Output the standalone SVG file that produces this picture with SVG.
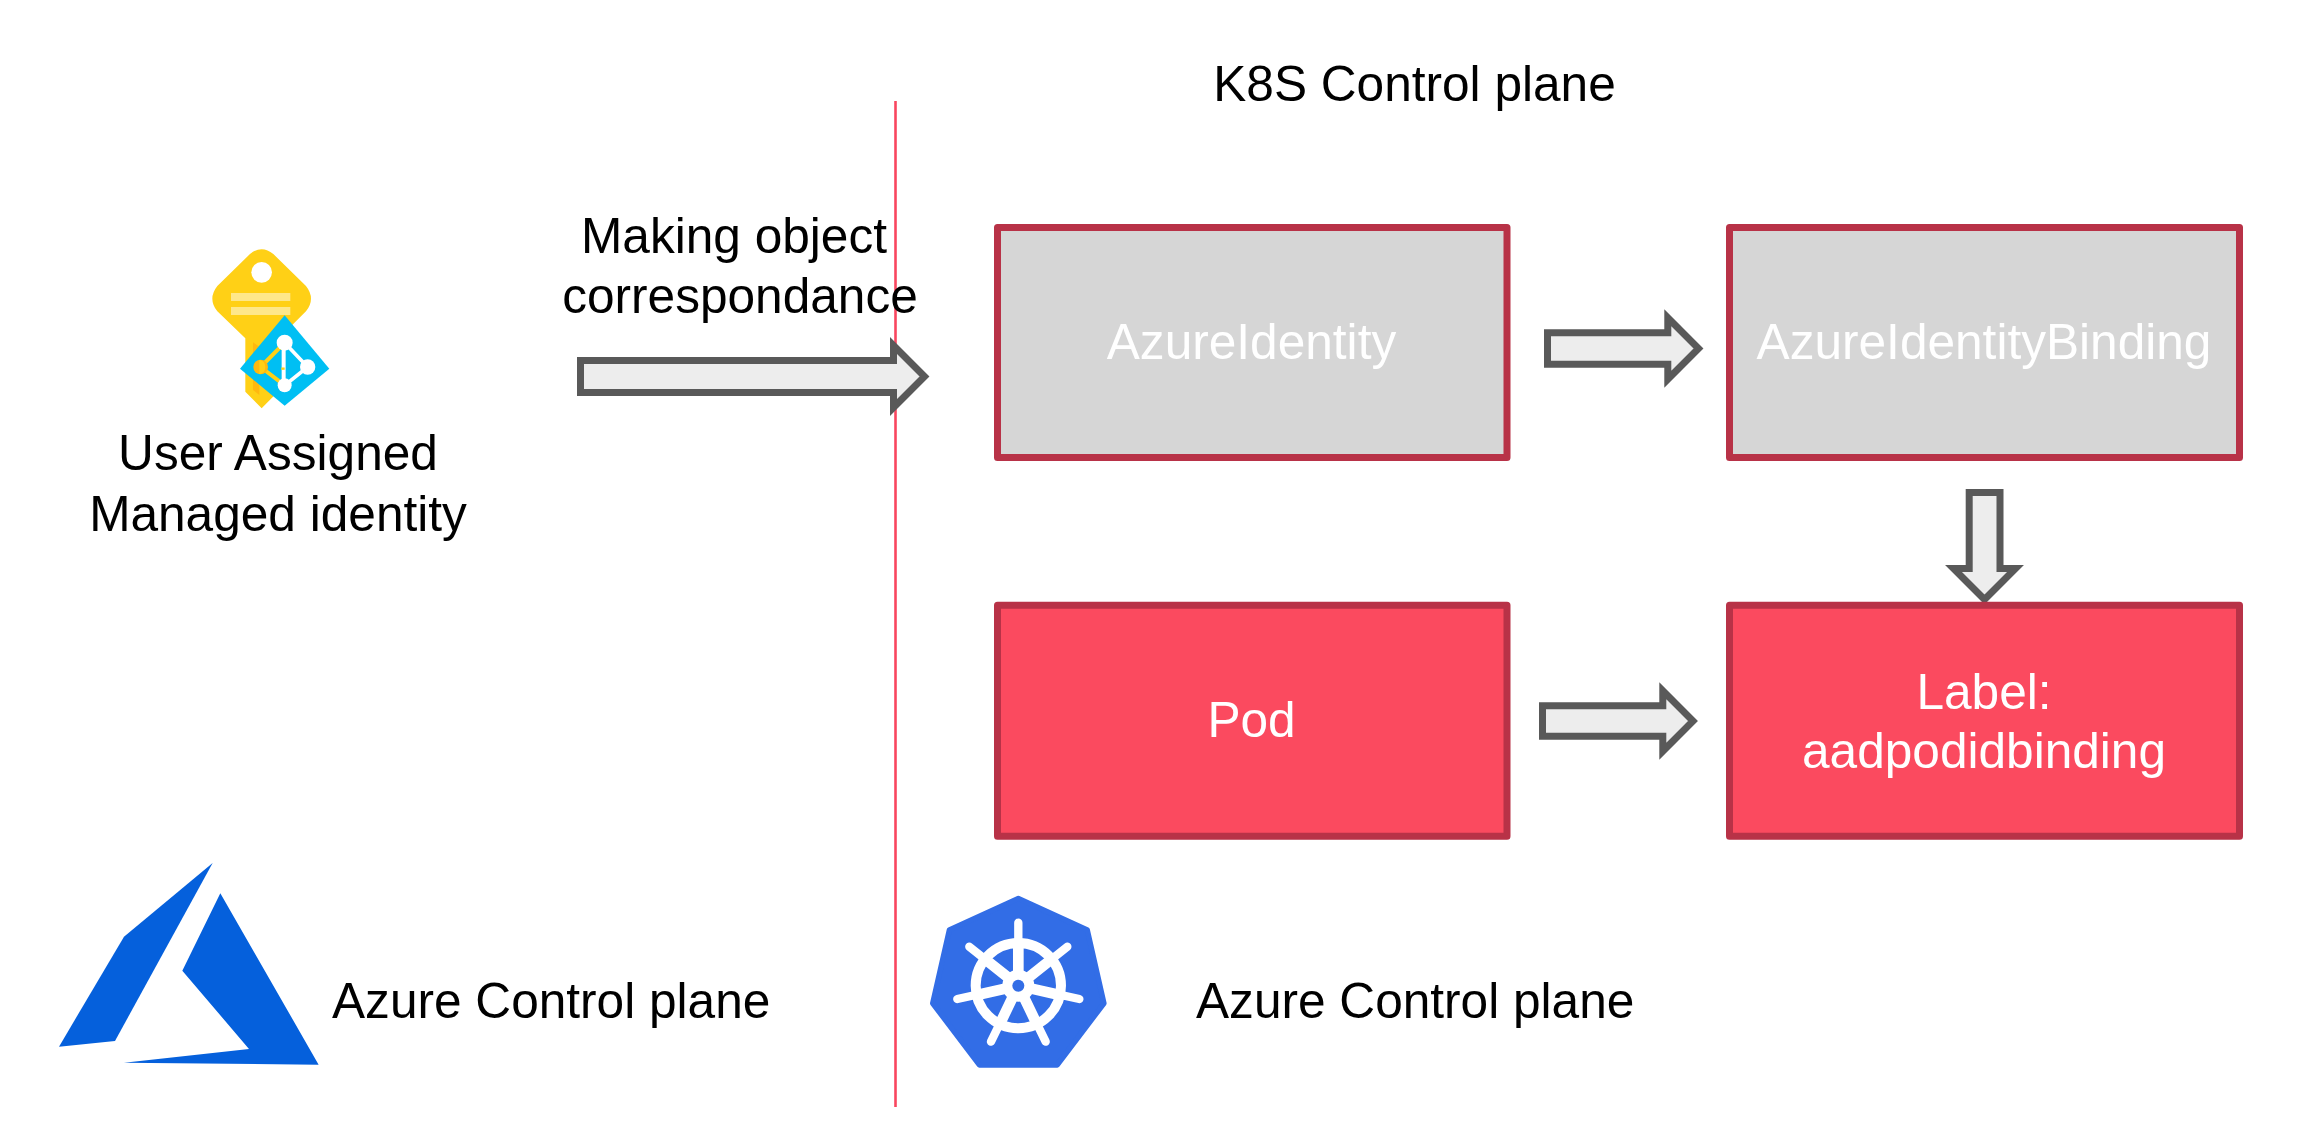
<svg xmlns="http://www.w3.org/2000/svg" width="2306" height="1136" viewBox="0 0 2306 1136">
<style>
text{font-family:"Liberation Sans",Arial,sans-serif;font-size:49.6px;fill:#000}
.m{text-anchor:middle}
.w{fill:#fff}
.box{stroke:#B83247;stroke-width:7;stroke-linejoin:round}
.gray{fill:#D6D6D6}
.red{fill:#FB4A5F}
.arrow{fill:#EDEDED;stroke:#595959;stroke-width:7;stroke-linejoin:miter;stroke-miterlimit:10}
</style>
<rect width="2306" height="1136" fill="#fff"/>
<line x1="895.5" y1="101" x2="895.5" y2="1107" stroke="#F9465F" stroke-width="2.6"/>
<g id="connectors">
<polygon class="arrow" points="580.500,360.500 893.500,360.500 893.500,345.500 924.500,376.500 893.500,407.500 893.500,392.500 580.500,392.500"/>
<polygon class="arrow" points="1547.500,332.800 1667.800,332.800 1667.800,317.800 1698.500,348.500 1667.800,379.200 1667.800,364.200 1547.500,364.200"/>
<polygon class="arrow" points="1969.200,492.500 2000,492.500 2000,568.500 2015.500,568.500 1984.500,599.500 1953.500,568.500 1969.200,568.500"/>
<polygon class="arrow" points="1542.500,705.800 1662.800,705.800 1662.800,690.800 1693,721 1662.800,751.200 1662.800,736.200 1542.500,736.200"/>
</g>
<g id="title"><text x="1414.5" y="101" class="m">K8S Control plane</text></g>
<g id="user-identity">
<g transform="translate(150,200) scale(.3333)">
<path d="M300 162Q335 133 370 162L468 258Q498 296 468 334L384 418V575L335 625L286 575V415L202 334Q172 296 202 258Z" fill="#FFD016"/>
<circle cx="335" cy="217" r="31" fill="#fff"/>
<rect x="243" y="279" width="178" height="24" fill="#FEE78A"/>
<rect x="243" y="321" width="178" height="24" fill="#FEE78A"/>
<polygon points="309,427 328,440 328,585 309,570" fill="#FFB80F"/>
<polygon points="404,346 538,506 404,617 270,506" fill="#00BFF3"/>
<g fill="none" stroke="#FFD016" stroke-width="12"><path d="M332 501L404 428M332 501L404 556"/></g>
<g fill="none" stroke="#fff" stroke-width="11"><path d="M404 428L473 501L404 556"/></g>
<path d="M401 428V556" fill="none" stroke="#fff" stroke-width="12"/>
<path d="M394 506H404" fill="none" stroke="#FFD016" stroke-width="7"/>
<circle cx="404" cy="428" r="24" fill="#fff"/>
<circle cx="473" cy="501" r="23" fill="#fff"/>
<circle cx="404" cy="556" r="21" fill="#fff"/>
<circle cx="332" cy="501" r="22" fill="#FFB80F"/>
<path d="M328 479.400A22 22 0 0 1 328 522.600Z" fill="#FFD016"/>
</g>
<text x="278" y="470" class="m">User Assigned</text>
<text x="278" y="531" class="m">Managed identity</text>
</g>
<g id="azure-control-plane">
<g transform="translate(40,840) scale(.3333)" fill="#0560DC">
<polygon points="518,69 252,290 57,620 225,603"/>
<polygon points="541,160 427,392 627,627 252,668 836,674"/>
</g>
<text x="332" y="1018">Azure Control plane</text>
</g>
<g id="k8s-control-plane">
<g transform="translate(910,880) scale(.3333)">
<polygon points="325,55 532,150 582,370 442,555 208,555 68,370 118,150" fill="#326DE6" stroke="#326DE6" stroke-width="16" stroke-linejoin="round"/>
<g stroke="#fff" stroke-linecap="round">
<path stroke-width="25" d="M325 317V128M325 317L472 200M325 317L508 357M325 317L407 485M325 317L243 485M325 317L142 357M325 317L178 200"/>
</g>
<circle cx="325" cy="317" r="128" fill="none" stroke="#fff" stroke-width="30"/>
<g stroke="#fff" stroke-width="32">
<path d="M325 317V190M325 317L424 238M325 317L449 345M325 317L380 431M325 317L270 431M325 317L201 345M325 317L226 238"/>
</g>
<circle cx="325" cy="317" r="48" fill="#fff"/>
<circle cx="325" cy="317" r="18" fill="#326DE6"/>
</g>
<text x="1196" y="1018">Azure Control plane</text>
</g>
<g id="making-label">
<text x="734" y="253" class="m">Making object</text>
<text x="740" y="313" class="m">correspondance</text>
</g>
<g id="azure-identity"><rect x="997.500" y="227.500" width="509.500" height="230" class="box gray"/><text x="1251.500" y="359" class="m w">AzureIdentity</text></g>
<g id="azure-identity-binding"><rect x="1729.500" y="227.500" width="510" height="230" class="box gray"/><text x="1984" y="359" class="m w">AzureIdentityBinding</text></g>
<g id="pod"><rect x="997.500" y="605.200" width="509.500" height="231" class="box red"/><text x="1251.500" y="737" class="m w">Pod</text></g>
<g id="label"><rect x="1729.500" y="605.200" width="510" height="231" class="box red"/><text x="1984" y="709" class="m w">Label:</text><text x="1984" y="768" class="m w">aadpodidbinding</text></g>
</svg>
